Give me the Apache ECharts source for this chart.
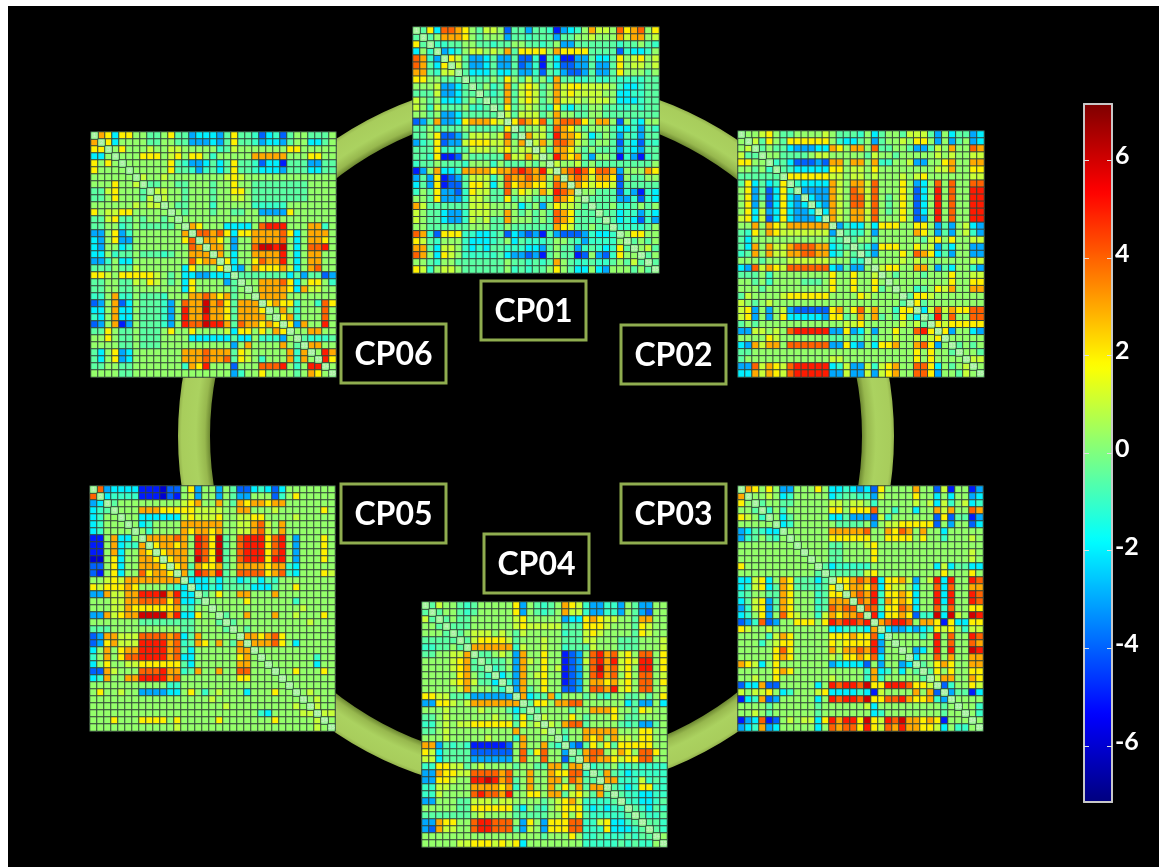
<!DOCTYPE html>
<html>
<head>
<meta charset="utf-8">
<title>CP01-CP06</title>
<style>
html, body { margin: 0; padding: 0; background: #fff; overflow: hidden; }
#bg { position: absolute; left: 8px; top: 6px; right: 0; bottom: 0; background: #000; }
#main { position: absolute; left: 0; top: 0; width: 1159px; height: 867px; }
</style>
<script src="https://cdn.jsdelivr.net/npm/echarts@6/dist/echarts.min.js"></script>
</head>
<body>
<div id="bg"></div>
<div id="main"></div>
<script>
// m = the mint cells, g = the light green cells, both
const m = -0.5, g = 0.3;
// the matrices are symmetric, so only the part right of the diagonal is listed (row r, columns r+1..34)
const cp01 = [
[m,2,-2,4, 4,3,2,g,m, 1,1,g,-4,m, m,-3,m,m,-1, -5,-3,-2,-1,g, 3,1,1,g,4, 2,3,4,g,2],
[m,g,3, 3,3,2,g,m, g,g,g,-3,m, m,-1,m,m,m, -3,m,m,g,g, 1,g,g,g,3, 1,3,3,g,1],
[-1,-1, m,m,g,g,m, m,-1,m,m,g, g,m,m,-1,m, g,-3,-3,m,m, m,m,m,m,-1, m,m,g,m,-1],
[-3, -2,-1,g,1,1, g,1,g,3,m, 2,2,2,2,g, 3,2,2,2,2, m,m,m,m,-4, -1,-2,-2,-1,g],
[2,1,m,-3,-3, -2,m,-3,-3,m, -4,-4,-1,-5,m, -2,-5,-5,-3,-3, m,-2,-2,m,2, g,1,2,g,1],
[1,m,-3,-3, -2,m,-3,-3,m, -4,-3,-1,-5,m, -2,-4,-4,-3,-3, m,-3,-3,m,2, g,1,1,g,1],
[m,-2,-2, -2,m,-2,-2,m, -3,-3,-1,-4,m, -1,-3,-4,-4,-3, m,-3,-3,m,2, g,g,g,m,g],
[m,m, m,g,m,2,g, m,1,m,g,-1, 3,m,m,-1,-1, m,-1,-1,m,-1, -1,-1,-1,m,m],
[m, g,-1,m,3,m, 1,2,1,m,g, 3,1,2,2,1, 1,1,1,g,-1, -2,-2,-1,m,m],
[m,-1,m,3,m, 1,2,1,m,g, 3,1,2,1,1, 1,1,g,g,-2, -2,-1,-1,m,m],
[m,m,3,m, 1,2,1,m,g, 3,1,1,1,g, 1,1,1,g,-2, -2,-2,-1,m,m],
[m,2,m, g,1,g,m,-1, 2,-1,-2,m,m, g,g,m,m,-1, -1,m,-1,m,m],
[1,m, 1,1,1,m,g, 3,g,g,m,m, g,g,m,m,m, m,m,m,m,m],
[2, 4,3,2,4,m, 3,4,4,4,2, g,3,3,g,-4, g,-1,-2,g,g],
[m,g,g,1,m, 4,3,2,g,m, g,g,g,m,-2, -2,-1,-3,m,-1],
[3,1,1,m, 5,3,3,2,g, -2,m,g,m,-3, m,-1,-3,m,m],
[1,3,g, 4,4,3,1,g, m,g,g,m,-4, -1,-2,-4,-1,-1],
[1,m, 3,3,2,g,m, g,m,m,m,-3, -1,-2,-3,m,m],
[g, 5,3,2,3,m, -3,g,g,m,-5, -1,-3,-5,-1,m],
[1,g,g,1,m, g,m,m,m,m, m,m,m,m,g],
[3,4,5,4, 2,4,4,3,-3, g,g,g,3,2],
[3,4,3, 1,3,3,2,-4, g,m,m,g,g],
[3,2, 1,2,2,1,-4, m,m,m,m,m],
[g, g,m,m,m,-4, -1,-3,-5,-1,-2],
[m,m,m,m,-3, -3,-1,-4,-1,-2],
[m,m,g,-1, -1,m,g,m,g],
[m,m,-2, -1,-1,-3,-1,-2],
[m,-2, -1,-2,-4,-1,-3],
[-1, -1,-1,-1,m,g],
[g,2,2,g,g],
[m,g,m,g],
[g,1,m],
[m,g],
[m]
];
const cp02 = [
[g,g,1,2, g,m,m,g,g, g,g,1,g,m, m,m,-1,g,-2, m,g,g,m,1, 1,1,m,-3,g, -2,m,m,-3,-2],
[1,m,2, g,m,2,2,2, 2,2,2,g,-1, -2,-2,m,g,-3, m,g,g,1,g, 2,2,g,-3,g, -3,m,g,-3,-2],
[m,g, m,m,-2,-3,-3, -3,-2,-2,3,2, g,3,3,g,4, m,m,g,g,m, -3,-3,m,1,g, 3,g,g,4,3],
[g, g,m,m,m,m, g,1,1,g,g, g,g,g,m,1, g,g,m,g,g, g,g,g,1,g, 1,g,g,1,1],
[-1,m,-2,-4,-4, -4,-3,-4,3,3, g,3,3,g,3, -1,-1,g,g,1, -3,-3,g,g,2, 3,g,g,3,3],
[m,-1,-2,-2, -2,-2,-2,2,2, g,1,1,g,2, g,g,g,g,g, g,g,g,1,1, 3,g,g,2,2],
[2,2,2, 2,2,2,1,1, g,1,1,g,1, g,g,g,1,g, 1,2,g,g,g, g,g,g,1,1],
[-1,-2, -2,-2,-2,3,1, g,3,3,1,4, g,g,g,2,g, -3,-2,g,4,g, 4,g,g,4,4],
[-3, -3,-3,-3,3,1, g,4,3,1,4, g,g,g,2,g, -4,-2,g,5,g, 4,g,g,5,5],
[-2,-3,-3,3,1, g,4,4,1,4, g,m,g,2,g, -4,-2,g,5,g, 4,g,g,5,5],
[-2,-3,3,1, g,4,4,1,4, g,m,g,2,g, -4,-2,g,5,g, 4,g,g,5,5],
[-2,3,1, g,3,3,1,4, g,m,g,2,g, -4,-2,g,5,g, 4,g,g,5,5],
[3,1, g,3,3,1,4, g,g,g,2,g, -4,-3,g,5,g, 4,g,g,5,5],
[-3, -1,-2,-2,g,-2, 2,2,2,g,g, 2,2,g,-3,m, -3,g,1,-2,-3],
[m,-1,-1,g,-3, g,g,g,g,g, 3,2,g,-3,m, -3,g,1,-1,-3],
[m,g,g,m, g,g,g,g,g, g,m,1,2,g, 2,g,g,1,1],
[m,-1,-3, 2,2,2,g,g, 2,g,1,-3,m, -2,g,g,-3,-3],
[-1,-3, g,g,g,2,g, 4,3,2,-2,m, -3,g,g,-3,-3],
[g, g,g,g,1,g, 1,g,g,g,g, g,g,g,1,1],
[1,2,2,g,g, 3,3,g,-3,m, -2,g,g,-1,-3],
[g,m,g,g, g,m,g,g,g, 2,g,g,1,1],
[g,g,g, g,g,g,g,g, 2,g,g,2,2],
[g,g, -1,m,g,2,1, 3,g,g,3,3],
[m, 2,2,1,g,g, g,g,g,g,g],
[2,m,g,g,g, g,g,g,g,g],
[-2,1,4,1, 3,2,2,4,4],
[m,5,g, 4,g,g,4,4],
[2,1, 2,2,2,2,2],
[2, -3,g,g,-2,-3],
[g,g,g,g,g],
[m,g,m,g],
[g,g,m],
[1,1],
[g]
];
const cp03 = [
[3,2,g,2, g,-3,-3,g,g, g,2,g,-2,-2, -1,-2,-3,-2,-4, 2,g,g,g,g, 3,g,g,-4,1, -5,g,g,-5,-3],
[g,g,1, g,-2,-1,g,g, g,g,g,-2,-1, m,m,-1,-1,-3, 1,g,g,g,g, 2,g,g,-2,g, -2,g,g,-3,-2],
[m,g, g,m,m,g,g, g,g,g,1,1, g,1,1,g,-1, g,g,g,g,g, 1,g,1,-2,1, -1,g,1,-2,-1],
[-1, g,-1,g,g,g, g,g,g,2,2, g,2,2,2,4, g,g,-1,g,g, -2,g,g,3,1, 3,g,g,4,3],
[g,-2,m,g,g, g,g,g,-2,-2, m,-3,-3,-3,-4, 1,-1,g,g,g, g,g,g,-4,2, -4,m,m,-5,-3],
[-2,-1,g,g, g,g,g,g,m, m,m,m,g,-3, g,1,1,2,2, 2,2,2,-4,g, -3,g,g,-4,-2],
[g,g,g, g,g,g,3,3, 3,3,3,4,g, g,3,2,4,3, g,3,g,g,-2, g,g,g,g,g],
[g,g, g,g,g,2,2, 2,2,2,2,g, g,2,2,2,2, g,2,g,g,-1, g,g,g,1,g],
[g, g,g,g,m,m, g,g,g,1,2, g,g,g,g,g, g,g,g,g,g, g,g,g,g,g],
[g,g,g,m,m, g,g,g,g,2, g,g,g,g,g, g,g,g,g,g, g,g,g,1,g],
[g,g,m,m, g,g,g,g,2, g,g,g,g,g, g,g,g,g,g, g,g,g,1,g],
[m,-2,-1, -1,-1,-1,-1,g, g,g,g,g,g, g,g,g,-2,1, -2,m,m,-2,-2],
[m,m, m,m,m,1,2, g,g,g,g,g, g,g,g,g,2, g,g,g,2,g],
[2, 2,3,4,3,5, -2,2,2,3,1, -3,g,1,5,-2, 5,g,g,5,4],
[2,3,3,2,4, -2,2,1,1,g, -2,g,g,4,-2, 4,g,g,3,3],
[3,4,3,5, -1,2,2,3,2, -2,g,g,5,-2, 5,g,g,5,4],
[4,3,5, -1,3,2,3,2, -2,g,g,5,-2, 5,g,g,5,4],
[4,4, -1,2,2,4,3, -2,g,g,4,-1, 4,g,g,2,2],
[5, -2,2,2,3,2, -4,-1,-1,6,-2, 6,1,g,6,5],
[3,4,5,5,4, g,3,3,2,-5, 2,-2,-2,2,2],
[-2,-3,-3,-2, -3,-2,-1,2,1, 2,g,-1,1,1],
[g,g,g, g,-1,g,5,g, 4,g,g,5,4],
[g,g, g,g,g,5,g, 4,g,g,4,3],
[g, -3,-2,g,5,g, 5,g,g,6,5],
[-2,g,g,4,g, 3,g,g,3,3],
[m,g,2,3, 2,g,g,3,3],
[m,2,g, 2,g,g,2,2],
[1,3, 3,g,g,3,2],
[-4, -1,g,g,2,1],
[-3,m,m,-5,-2],
[g,g,g,g],
[g,g,-1],
[g,-1],
[g]
];
const cp04 = [
[m,1,g,g, m,-1,m,g,g, g,g,g,2,-3, g,m,-1,m,g, 3,2,1,-1,-3, -3,-1,-1,-3,g, m,-3,-3,g,g],
[m,g,g, m,-1,m,g,g, g,g,g,2,-3, g,m,-1,m,g, 3,1,1,-1,-3, -3,-1,-1,-3,g, m,-3,-4,g,g],
[m,g, m,m,g,g,g, g,g,g,1,2, g,g,g,g,g, -3,-2,-2,2,3, 2,1,1,g,g, m,3,3,g,g],
[m, m,m,g,g,g, g,g,g,1,2, 1,1,1,1,1, m,m,m,2,2, 2,1,g,g,g, m,2,1,g,g],
[m,g,1,1,1, g,1,g,m,1, g,g,g,g,g, -1,m,m,1,2, 1,g,g,g,g, m,2,1,g,g],
[m,1,2,2, 2,2,1,m,g, g,g,1,g,g, m,m,m,1,1, g,g,g,m,m, m,g,g,g,1],
[3,3,3, 3,3,3,-1,1, g,g,1,g,g, -1,m,m,m,1, g,g,g,m,m, m,g,g,g,1],
[m,m, g,1,g,-3,3, g,g,2,g,g, -5,-4,-3,g,4, 5,3,4,1,2, g,4,4,g,2],
[m, m,m,g,-3,3, 1,g,2,g,g, -5,-4,-3,1,4, 5,3,5,1,2, 1,5,5,g,2],
[-1,m,g,-3,3, g,g,2,g,1, -5,-4,-3,g,4, 6,3,4,1,2, g,5,5,g,2],
[-2,m,-3,3, g,1,2,g,g, -5,-4,-3,g,4, 5,3,4,g,2, g,4,4,g,1],
[-1,-3,3, g,g,2,g,g, -5,-4,-3,g,3, 3,2,3,1,2, g,4,4,g,2],
[-3,3, m,g,2,g,g, -4,-4,-3,g,4, 4,3,5,1,2, g,4,4,g,1],
[3, -2,-1,m,3,-1, g,g,g,m,g, m,-1,g,g,m, m,g,m,g,2],
[m,2,2,g,3, 3,4,4,g,g, g,g,g,g,-2, m,-3,-3,g,-2],
[m,g,g,g, g,m,g,g,3, 3,3,2,g,g, m,2,1,g,g],
[1,g,g, g,2,g,m,g, g,g,2,g,m, m,g,g,g,g],
[1,g, 3,4,4,m,g, g,g,g,m,-1, m,-3,-3,m,g],
[g, m,g,g,3,3, 3,3,3,g,g, g,2,2,g,g],
[-1,g,g,3,2, 3,g,3,1,1, g,2,2,g,g],
[-3,-4,m,2, g,2,m,2,2, 2,2,2,g,g],
[m,3,4, 4,g,1,3,2, g,4,4,2,g],
[3,4, 3,3,2,1,2, 2,4,4,g,g],
[-1, m,m,g,-1,-1, m,-1,-1,-1,-1],
[m,3,m,-1,-2, -1,-1,-1,-1,-1],
[3,3,-1,-1, -1,1,-1,m,-1],
[m,-1,-2, -1,2,2,-1,-1],
[m,-1, -1,-2,-2,-1,-1],
[-1, -1,-2,-2,-1,m],
[m,-1,-2,m,-1],
[m,-1,-1,m],
[m,m,-1],
[m,-1],
[g]
];
const cp05 = [
[4,-3,-2,-2, -2,-2,-5,-5,-5, -6,-4,-4,g,2, -3,g,g,-3,g, m,-4,-4,-2,-1, -2,-4,-2,g,g, g,g,g,g,g],
[-2,-1,-1, -1,-1,-5,-5,-5, -6,-4,-5,g,1, -3,g,g,-3,g, m,-3,-3,g,g, g,-4,-1,g,2, g,g,g,g,g],
[m,g, g,g,g,g,g, g,g,g,1,2, 3,g,g,3,g, m,3,2,3,3, 2,3,3,g,g, g,g,g,g,g],
[g, g,g,3,3,3, 2,2,2,2,2, 1,1,1,1,g, g,3,3,g,g, g,1,g,g,g, g,g,g,2,g],
[g,g,-2,-2,-2, -2,-2,-2,1,2, 1,1,1,2,g, g,1,1,2,2, g,g,g,g,1, g,g,g,g,g],
[g,-2,-1,g, g,g,g,3,3, 3,3,3,3,g, g,1,1,3,4, 1,g,3,g,g, g,g,g,g,g],
[g,-1,g, g,g,g,3,2, 3,3,2,3,g, g,1,1,3,4, 1,g,3,g,g, g,g,g,g,g],
[3,3, 3,3,4,3,g, 5,4,2,6,m, g,4,5,5,5, 2,4,5,g,-3, g,g,g,2,g],
[2, 3,3,2,3,g, 5,4,2,6,m, g,4,5,5,5, 2,4,5,g,-3, g,g,g,2,g],
[2,3,3,3,g, 5,4,2,6,m, g,4,5,5,5, 2,4,5,g,-3, g,g,g,2,g],
[2,3,3,g, 6,4,2,6,m, g,4,5,5,5, 2,5,5,g,-3, g,g,g,2,g],
[2,3,m, 3,2,2,3,m, g,3,3,3,3, 2,3,3,-1,-2, g,g,g,g,g],
[3,-1, 5,4,3,5,m, g,4,4,4,4, 2,3,4,-1,-2, g,g,g,2,1],
[-2, -2,-2,m,-2,m, m,-2,-1,m,-2, m,-1,g,g,g, g,g,g,g,g],
[-2,-2,-1,-2,m, m,m,m,-2,-2, -2,m,g,g,2, g,g,g,g,g],
[m,g,2,g, g,3,3,g,g, g,3,g,g,g, g,g,g,g,g],
[g,g,g, g,g,2,g,g, g,g,g,g,-1, g,g,g,g,g],
[g,g, g,g,g,g,g, g,g,g,g,g, 1,g,g,g,g],
[m, g,g,3,g,g, g,3,g,g,1, g,g,g,2,g],
[m,g,g,g,g, g,g,g,g,g, g,1,g,g,g],
[g,m,g,g, g,g,g,g,g, g,g,g,g,g],
[3,3,2, 3,4,2,g,g, g,g,g,g,g],
[3,3, 3,4,2,g,-2, g,g,g,g,g],
[g, g,g,g,g,g, g,g,g,g,g],
[g,g,g,g,g, g,g,-1,g,g],
[g,g,g,g, g,g,-2,g,g],
[g,g,2, g,g,g,2,g],
[g,g, g,g,g,g,g],
[g, g,g,g,g,g],
[g,1,g,g,g],
[g,1,g,g],
[1,g,g],
[1,1],
[g]
];
const cp06 = [
[3,2,-2,2, 2,g,g,m,m, g,2,m,m,-3, -2,-2,-2,-3,m, 2,m,m,-1,-4, -2,-1,-4,m,g, g,m,m,m,g],
[2,-2,g, g,g,g,m,m, g,g,m,m,-3, -3,-3,-2,-3,m, 2,m,m,-1,-3, -2,-2,-3,m,g, g,-2,-2,m,g],
[g,2, g,g,g,1,g, g,1,1,g,g, g,g,g,-1,m, 1,g,g,g,g, g,g,g,2,2, g,g,g,g,g],
[g, g,g,2,2,2, g,1,2,g,2, 2,g,-1,g,g, g,g,g,3,3, 3,3,3,g,g, g,2,2,g,g],
[g,g,g,g,g, g,2,m,-1,-3, -3,-2,m,-2,m, 2,m,m,-1,-4, -2,-2,-5,m,m, m,-3,-3,m,m],
[g,g,g,g, g,2,m,m,-1, -3,-1,m,-2,m, 2,m,m,-1,-2, -2,-2,-3,m,m, m,-2,-2,m,m],
[1,g,g, 1,g,g,g,g, g,g,g,g,1, 2,1,g,g,g, g,g,g,g,g, g,g,g,g,g],
[m,m, g,g,m,m,g, g,g,m,g,g, 2,g,g,m,m, m,m,m,m,m, m,g,g,g,g],
[1, 1,g,g,m,g, g,g,m,g,g, 2,2,g,m,m, m,m,m,m,m, m,g,g,g,g],
[1,g,g,m,g, g,g,m,g,g, 1,1,g,m,m, m,m,m,m,m, m,g,g,g,g],
[g,m,m,g, g,g,-1,g,g, g,g,g,-1,-1, -1,-1,-1,g,g, g,g,g,g,g],
[g,m,g, g,g,m,g,g, m,m,g,g,-3, -3,-3,-3,2,g, g,g,g,g,g],
[g,g, g,g,g,g,g, g,g,g,g,g, g,g,g,g,g, g,g,g,g,g],
[3, 2,g,g,g,-2, -2,-2,-2,g,4, 5,5,5,g,g, g,3,3,-1,g],
[4,4,3,4,2, -2,2,2,3,3, 3,3,4,2,-2, g,3,3,3,g],
[3,3,2,g, -3,g,g,3,3, 3,3,4,g,-2, g,3,3,2,g],
[3,3,g, -3,g,g,4,6, 6,5,6,g,-2, g,4,4,5,g],
[3,g, -2,g,g,3,3, 3,3,5,g,-2, g,3,3,g,g],
[2, -2,g,g,2,4, 3,3,5,g,-2, g,3,3,g,g],
[-2,-3,g,3,2, 2,2,3,1,-2, g,3,4,g,g],
[m,m,m,m, m,m,m,-2,m, -3,m,m,-4,-3],
[g,g,3, 3,3,4,2,-2, g,2,2,g,-1],
[g,3, 3,3,3,2,-2, 3,1,1,g,g],
[3, 3,3,3,g,g, g,g,g,g,g],
[2,3,2,2,-1, g,g,-1,4,2],
[g,3,g,-1, g,g,g,4,g],
[2,3,-1, g,g,g,4,g],
[2,-3, 3,g,g,5,g],
[g, g,3,3,g,g],
[m,-1,-1,-1,m],
[3,3,g,g],
[g,5,3],
[5,2],
[g]
];

const panelNames = ['CP01', 'CP02', 'CP03', 'CP04', 'CP05', 'CP06'];
const panelData = [cp01, cp02, cp03, cp04, cp05, cp06];
const colourTicks = [-6, -4, -2, 0, 2, 4, 6];
const jet = ['#00007f', '#0000ff', '#007fff', '#00ffff', '#7fff7f', '#ffff00', '#ff7f00', '#ff0000', '#7f0000'];

// left, top, size of each heatmap and left, top of its name box
const panelBox = [[413, 27, 246], [738, 131, 246], [738, 486, 245], [422, 602, 245], [90, 486, 245], [91, 132, 245]];
const nameBox = [[481, 281], [621, 325], [621, 484], [484, 534], [341, 484], [341, 324]];
const n = 35;
const cellIds = [];
for (let i = 1; i <= n; i++) cellIds.push(String(i));

function toCells(upper) {
    let cells = [];
    upper.forEach(function (row, r) {
        row.forEach(function (v, k) {
            cells.push([r + 1 + k, r, v]);
            cells.push([r, r + 1 + k, v]);
        });
    });
    //-- the diagonal cells carry a pale number
    for (let i = 0; i < n; i++) {
        cells.push({
            value: [i, i, 0],
            label: { show: true, formatter: cellIds[i], color: '#cfeec8', fontSize: 6, fontFamily: 'Lato',
                backgroundColor: '#a5f5a0', width: 6, height: 6, lineHeight: 6, align: 'center' }
        });
    }
    return cells;
}

let grids = [], xAxes = [], yAxes = [], series = [], graphics = [];

graphics.push({
    type: 'ring', z: -1, silent: true,
    shape: { cx: 536, cy: 436, r: 358, r0: 326 },
    style: { fill: new echarts.graphic.RadialGradient(536, 436, 358, [
        { offset: 0.91, color: '#6b8630' }, { offset: 0.925, color: '#97b84e' },
        { offset: 0.95, color: '#abd260' }, { offset: 0.99, color: '#a8cd5c' }, { offset: 1, color: '#93b24c' }
    ], true) }
});

panelNames.forEach(function (name, i) {
    let box = panelBox[i];
    grids.push({ left: box[0], top: box[1], width: box[2], height: box[2] });
    xAxes.push({ type: 'category', gridIndex: i, data: cellIds, show: false });
    yAxes.push({ type: 'category', gridIndex: i, data: cellIds, show: false, inverse: true });
    series.push({
        name: name, type: 'heatmap', xAxisIndex: i, yAxisIndex: i,
        data: toCells(panelData[i]), progressive: 0, animation: false,
        itemStyle: { borderColor: '#33443a', borderWidth: 1 },
        emphasis: { disabled: true }
    });
    graphics.push({ type: 'rect', z: 5, shape: { x: nameBox[i][0], y: nameBox[i][1], width: 105, height: 59 },
        style: { fill: '#000', stroke: '#8fad4f', lineWidth: 3 } });
    graphics.push({ type: 'text', z: 6, x: nameBox[i][0] + 52.5, y: nameBox[i][1] + 31,
        style: { text: name, fill: '#fff', font: 'bold 32px Lato', textAlign: 'center', textVerticalAlign: 'middle' } });
});

//-- colour bar axes sit over the visualMap
grids.push({ left: 1084, top: 104, width: 28, height: 698 });
const barGrid = panelNames.length;
const barLine = { show: true, onZero: false, lineStyle: { color: '#c8c8c8', width: 2 } };
xAxes.push({ type: 'value', gridIndex: barGrid, min: 0, max: 1, position: 'bottom', z: 10, axisLine: barLine,
    axisTick: { show: false }, axisLabel: { show: false }, splitLine: { show: false } });
xAxes.push({ type: 'value', gridIndex: barGrid, min: 0, max: 1, position: 'top', z: 10, axisLine: barLine,
    axisTick: { show: false }, axisLabel: { show: false }, splitLine: { show: false } });
yAxes.push({ type: 'value', gridIndex: barGrid, min: -7.15, max: 7.15, position: 'left', z: 10, axisLine: barLine,
    axisTick: { show: true, inside: true, length: 5, customValues: colourTicks, lineStyle: { color: '#e0e0e0' } },
    axisLabel: { show: false }, splitLine: { show: false } });
yAxes.push({ type: 'value', gridIndex: barGrid, min: -7.15, max: 7.15, position: 'right', z: 10, axisLine: barLine,
    axisTick: { show: true, inside: true, length: 5, customValues: colourTicks, lineStyle: { color: '#e0e0e0' } },
    axisLabel: { show: true, customValues: colourTicks, color: '#fff', fontFamily: 'Lato', fontWeight: 'bold', fontSize: 25,
        margin: 3, verticalAlign: 'bottom', lineHeight: 8 },
    splitLine: { show: false } });

let myChart = echarts.init(document.getElementById('main'), null, { renderer: 'canvas' });
myChart.setOption({
    animation: false,
    grid: grids,
    xAxis: xAxes,
    yAxis: yAxes,
    visualMap: {
        type: 'continuous', min: -7.15, max: 7.15, seriesIndex: [0, 1, 2, 3, 4, 5],
        calculable: false, left: 1084, top: 104, itemWidth: 28, itemHeight: 698, padding: 0,
        text: ['', ''], inRange: { color: jet }, hoverLink: false
    },
    graphic: graphics,
    series: series
});
</script>
</body>
</html>
